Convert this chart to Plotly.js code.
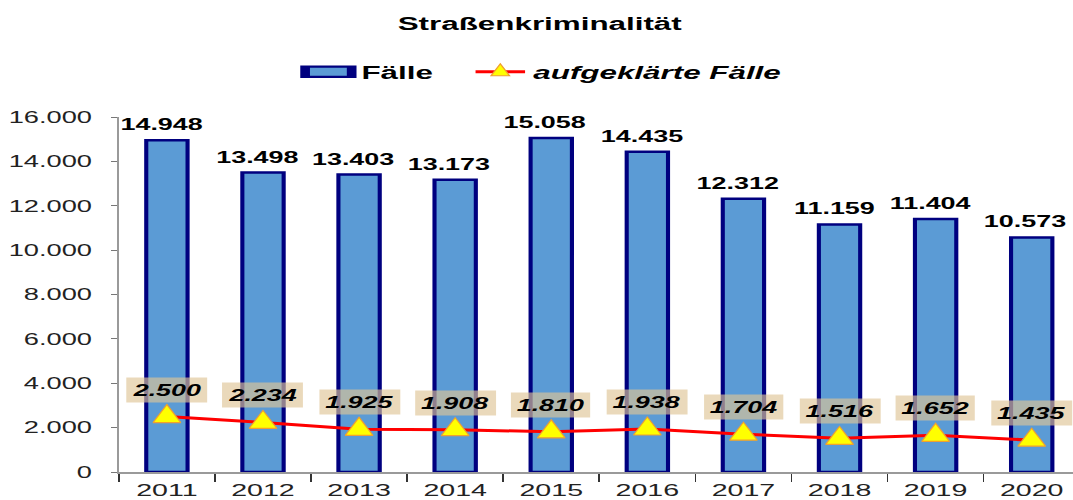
<!DOCTYPE html>
<html>
<head>
<meta charset="utf-8">
<script src="https://cdn.plot.ly/plotly-3.0.1.min.js"></script>
<style>
  html, body { margin: 0; padding: 0; background: #fff; overflow: hidden; }
  #wrap { width: 1073px; height: 500px; overflow: hidden; }
  #chart { width: 650px; height: 500px; transform: scaleX(1.6508); transform-origin: 0 0; }
</style>
</head>
<body>
<div id="wrap"><div id="chart"></div></div>
<script>
// ---- data ----
const years = ["2011","2012","2013","2014","2015","2016","2017","2018","2019","2020"];
const faelle = [14948, 13498, 13403, 13173, 15058, 14435, 12312, 11159, 11404, 10573];
const aufgeklaert = [2500, 2234, 1925, 1908, 1810, 1938, 1704, 1516, 1652, 1435];
const yTicks = [0, 2000, 4000, 6000, 8000, 10000, 12000, 14000, 16000];

function fmt(v) {
  return String(v).replace(/\B(?=(\d{3})+(?!\d))/g, ".");
}

const FONT = '"Liberation Sans", Arial, Helvetica, sans-serif';
const STRETCH = 1.6508;

const traces = [
  {
    type: 'bar',
    name: 'Fälle\u00a0\u00a0\u00a0',
    x: years,
    y: faelle,
    width: 0.43,
    marker: { color: '#5b9bd5', line: { color: '#00007f', width: 2.5 } },
    hoverinfo: 'x+y'
  },
  {
    type: 'scatter',
    mode: 'lines+markers',
    name: '<i>aufgeklärte Fälle</i>',
    x: years,
    y: aufgeklaert,
    line: { color: '#ff0000', width: 3 },
    marker: { symbol: 'triangle-up', size: 24, color: '#ffff00', line: { color: '#f0a030', width: 1.2 } },
    cliponaxis: false
  }
];

const annotations = [];
years.forEach((yr, i) => {
  annotations.push({
    x: i, y: faelle[i], xref: 'x', yref: 'y',
    text: fmt(faelle[i]), showarrow: false,
    xanchor: 'center', yanchor: 'middle', xshift: -3.5, yshift: 16,
    font: { family: FONT, size: 16.3, color: '#000', weight: 'bold' }
  });
  annotations.push({
    x: i, y: aufgeklaert[i], xref: 'x', yref: 'y',
    text: fmt(aufgeklaert[i]), showarrow: false,
    xanchor: 'center', yanchor: 'middle', yshift: 27,
    bgcolor: 'rgba(222,196,150,0.65)', borderpad: 3,
    font: { family: FONT, size: 16.3, color: '#000', weight: 'bold', style: 'italic' }
  });
});

const layout = {
  width: 650,
  height: 500,
  margin: { l: 72, r: 0, t: 117, b: 28 },
  paper_bgcolor: '#ffffff',
  plot_bgcolor: '#ffffff',
  separators: ',.',
  font: { family: FONT, color: '#222' },
  title: {
    text: 'Straßenkriminalität',
    x: 0.503, xanchor: 'center',
    y: 0.953, yanchor: 'middle',
    font: { family: FONT, size: 19, color: '#000', weight: 'bold' }
  },
  showlegend: true,
  legend: {
    orientation: 'h',
    x: 0.185, xanchor: 'left',
    y: 1.127, yanchor: 'middle',
    font: { family: FONT, size: 19, color: '#000', weight: 'bold' },
    itemwidth: 30,
    traceorder: 'normal',
    bgcolor: 'rgba(0,0,0,0)'
  },
  xaxis: {
    type: 'category',
    range: [-0.5, 9.43],
    showgrid: false,
    zeroline: false,
    showline: true,
    linecolor: '#9a9a9a',
    linewidth: 1.5,
    ticks: 'outside',
    tickson: 'boundaries',
    ticklen: 8,
    tickwidth: 1,
    tickcolor: '#333',
    ticklabelstandoff: 2,
    tickfont: { family: FONT, size: 17.3, color: '#222' },
    fixedrange: true
  },
  yaxis: {
    range: [0, 16000],
    tickvals: yTicks,
    ticktext: yTicks.map(fmt),
    showgrid: false,
    zeroline: false,
    showline: true,
    linecolor: '#9a9a9a',
    linewidth: 1,
    ticks: 'outside',
    ticklen: 4,
    tickwidth: 1,
    tickcolor: '#777',
    ticklabelstandoff: 8,
    tickfont: { family: FONT, size: 16.5, color: '#222' },
    fixedrange: true
  },
  bargap: 0.57,
  annotations: annotations
};

Plotly.newPlot('chart', traces, layout, { displayModeBar: false, responsive: false, staticPlot: true }).then(gd => {
  // counter the horizontal stretch on the triangle markers
  const sx = 1 / STRETCH;
  gd.querySelectorAll('.scatterlayer .trace .points path.point').forEach(p => {
    const t = p.getAttribute('transform') || '';
    p.setAttribute('transform', t + ' scale(' + sx + ',1)');
  });
  const items = gd.querySelectorAll('.legend .traces');
  if (items[0]) {
    items[0].querySelectorAll('.legendpoints path').forEach(p => {
      const t = p.getAttribute('transform') || '';
      p.setAttribute('transform', t + ' scale(2.35,0.85)');
    });
  }
  if (items[1]) {
    items[1].querySelectorAll('.legendpoints path').forEach(p => {
      const t = p.getAttribute('transform') || '';
      p.setAttribute('transform', t + ' scale(' + sx + ',1)');
    });
  }
});
</script>
</body>
</html>
